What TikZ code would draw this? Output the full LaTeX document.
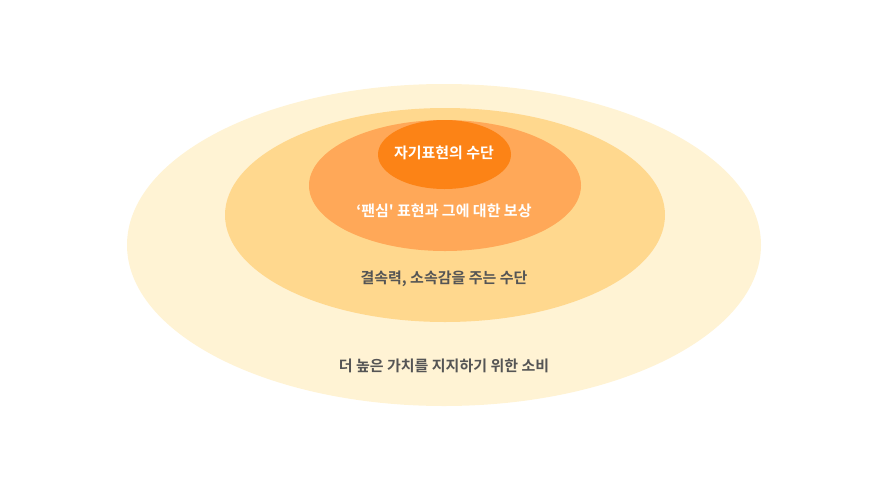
\documentclass[tikz,border=0pt]{standalone}
\usepackage{fontspec}
\newfontfamily\krfont{Noto Sans CJK KR}[BoldFont={* Bold}]
\usetikzlibrary{shapes.geometric, positioning}
\definecolor{RingOuter}{HTML}{FFF3D4}
\definecolor{RingSecond}{HTML}{FFD88E}
\definecolor{RingThird}{HTML}{FFA858}
\definecolor{RingInner}{HTML}{FC8316}
\definecolor{LabelGray}{HTML}{555555}

\begin{document}
\begin{tikzpicture}[
    x=1pt, y=-1pt,
    ring/.style={ellipse, draw=none, inner sep=0pt},
    lbl/.style={font=\krfont\bfseries\fontsize{15}{18}\selectfont, inner sep=0pt},
    lightlbl/.style={lbl, text=white},
    darklbl/.style={lbl, text=LabelGray}
]
\useasboundingbox (0,0) rectangle (887,491);

% ---- rings, outside in ----
\node[ring, fill=RingOuter, minimum width=634pt, minimum height=322pt]
    (outer) at (444,245) {};
\node[ring, fill=RingSecond, minimum width=440pt, minimum height=214pt]
    (second) at (445,215) {};
\node[ring, fill=RingThird, minimum width=272pt, minimum height=131pt]
    (third) at (445,185.5) {};
\node[ring, fill=RingInner, minimum width=133pt, minimum height=69pt]
    (inner) at (444.5,154.5) {};

% ---- labels ----
\node[lightlbl] (innerlbl) at (444,153) {자기표현의 수단};
\node[lightlbl] (thirdlbl) at (444,211) {‘팬심' 표현과 그에 대한 보상};
\node[darklbl] (secondlbl) at (444,279) {결속력, 소속감을 주는 수단};
\node[darklbl] (outerlbl) at (444,366) {더 높은 가치를 지지하기 위한 소비};

\end{tikzpicture}
\end{document}
